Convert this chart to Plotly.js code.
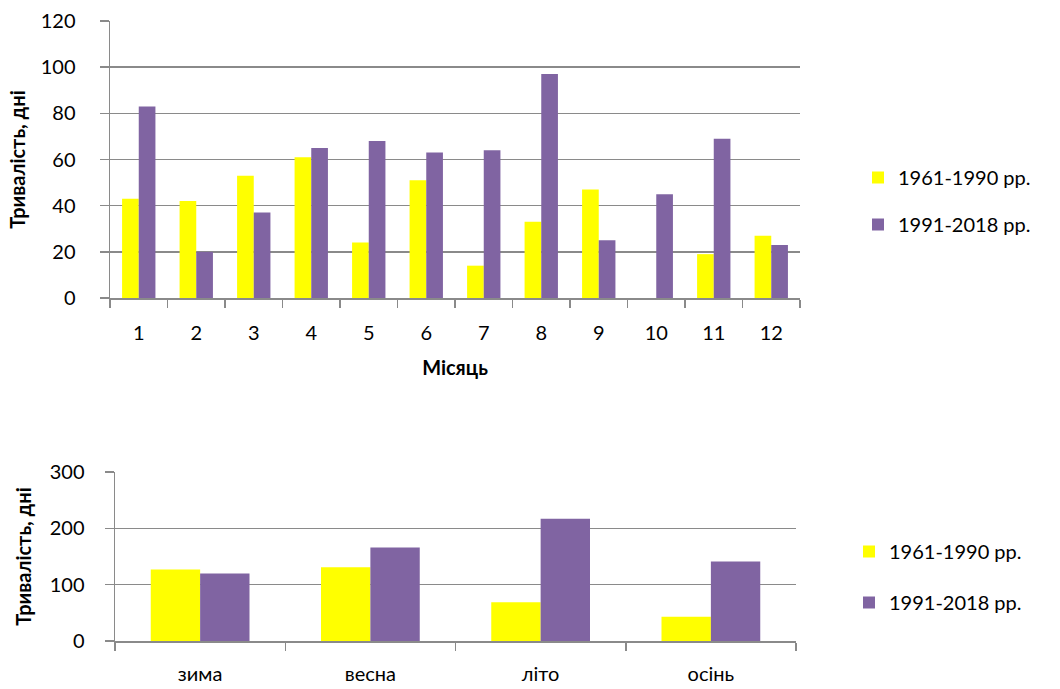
<!DOCTYPE html>
<html>
<head>
<meta charset="utf-8">
<script src="https://cdn.plot.ly/plotly-3.0.1.min.js"></script>
<style>html,body{margin:0;padding:0;background:#fff;}#chart{width:1060px;height:689px;}</style>
</head>
<body>
<div id="chart"></div>
<script>
const months = ['1','2','3','4','5','6','7','8','9','10','11','12'];
const monthsOld = [43, 42, 53, 61, 24, 51, 14, 33, 47, 0, 19, 27];
const monthsNew = [83, 20, 37, 65, 68, 63, 64, 97, 25, 45, 69, 23];
const seasons = ['зима', 'весна', 'літо', 'осінь'];
const seasonsOld = [127, 131, 69, 43];
const seasonsNew = [120, 166, 217, 141];
const seriesNames = ['1961-1990 рр.', '1991-2018 рр.'];
const yTitle = 'Тривалість, дні';
const xTitle = 'Місяць';

const YELLOW = '#FFFF00', PURPLE = '#8064A2';
const FONT = 'Lato, "Open Sans", sans-serif';
const W = 1060, H = 689;
const gridColor = '#8a8a8a';

const traces = [
  {type:'bar', x: months, y: monthsOld, name: seriesNames[0], marker:{color:YELLOW, line:{width:0}}, xaxis:'x', yaxis:'y', legend:'legend', legendgroup:'a'},
  {type:'bar', x: months, y: monthsNew, name: seriesNames[1], marker:{color:PURPLE, line:{width:0}}, xaxis:'x', yaxis:'y', legend:'legend', legendgroup:'b'},
  {type:'bar', x: seasons, y: seasonsOld, name: seriesNames[0], marker:{color:YELLOW, line:{width:0}}, xaxis:'x2', yaxis:'y2', legend:'legend2', legendgroup:'c'},
  {type:'bar', x: seasons, y: seasonsNew, name: seriesNames[1], marker:{color:PURPLE, line:{width:0}}, xaxis:'x2', yaxis:'y2', legend:'legend2', legendgroup:'d'}
];

const tickFont = {family: FONT, size: 20, color: '#000'};
const titleFont = {family: FONT, size: 20, color: '#000', weight: 'bold'};

const baseX = {
  type:'category', showgrid:false, showline:true, linecolor:gridColor, linewidth:1.5,
  ticks:'outside', tickson:'boundaries', ticklen:8, tickcolor:gridColor, tickwidth:1.5,
  tickfont: tickFont, zeroline:false, fixedrange:true
};
const baseY = {
  showgrid:true, gridcolor:gridColor, gridwidth:1.5, showline:true, linecolor:gridColor, linewidth:1.5,
  ticks:'outside', ticklen:9, tickcolor:gridColor, tickwidth:1.5, tickfont: tickFont,
  zeroline:false, fixedrange:true
};

const layout = {
  width: W, height: H,
  margin: {l:0, r:0, t:0, b:0},
  paper_bgcolor:'#fff', plot_bgcolor:'#fff',
  barmode:'group', bargap:0.42, bargroupgap:0,
  showlegend:true,
  font:{family: FONT, color:'#000'},
  xaxis: Object.assign({}, baseX, {
    domain:[110/W, 800/W], anchor:'y', ticklabelstandoff: 16,
    title:{text: xTitle, font: titleFont, standoff: 18}
  }),
  yaxis: Object.assign({}, baseY, {
    domain:[(H-298)/H, (H-21)/H], anchor:'x', range:[0,120], dtick:20, tick0:0,
    ticklabelstandoff: 20,
    title:{text: yTitle, font: titleFont, standoff: 9}
  }),
  xaxis2: Object.assign({}, baseX, {
    domain:[115/W, 796/W], anchor:'y2', ticklabelstandoff: 14
  }),
  yaxis2: Object.assign({}, baseY, {
    domain:[(H-641)/H, (H-472)/H], anchor:'x2', range:[0,300], dtick:100, tick0:0,
    ticklabelstandoff: 16,
    title:{text: yTitle, font: titleFont, standoff: 12}
  }),
  legend: {x: 858/W, y: (H-158)/H, xanchor:'left', yanchor:'top', font:{family:FONT, size:20, color:'#000'}, tracegroupgap:18, bgcolor:'rgba(0,0,0,0)'},
  legend2: {x: 849/W, y: (H-532)/H, xanchor:'left', yanchor:'top', font:{family:FONT, size:20, color:'#000'}, tracegroupgap:22, bgcolor:'rgba(0,0,0,0)'}
};

Plotly.newPlot('chart', traces, layout, {displayModeBar:false, staticPlot:true});
</script>
</body>
</html>
